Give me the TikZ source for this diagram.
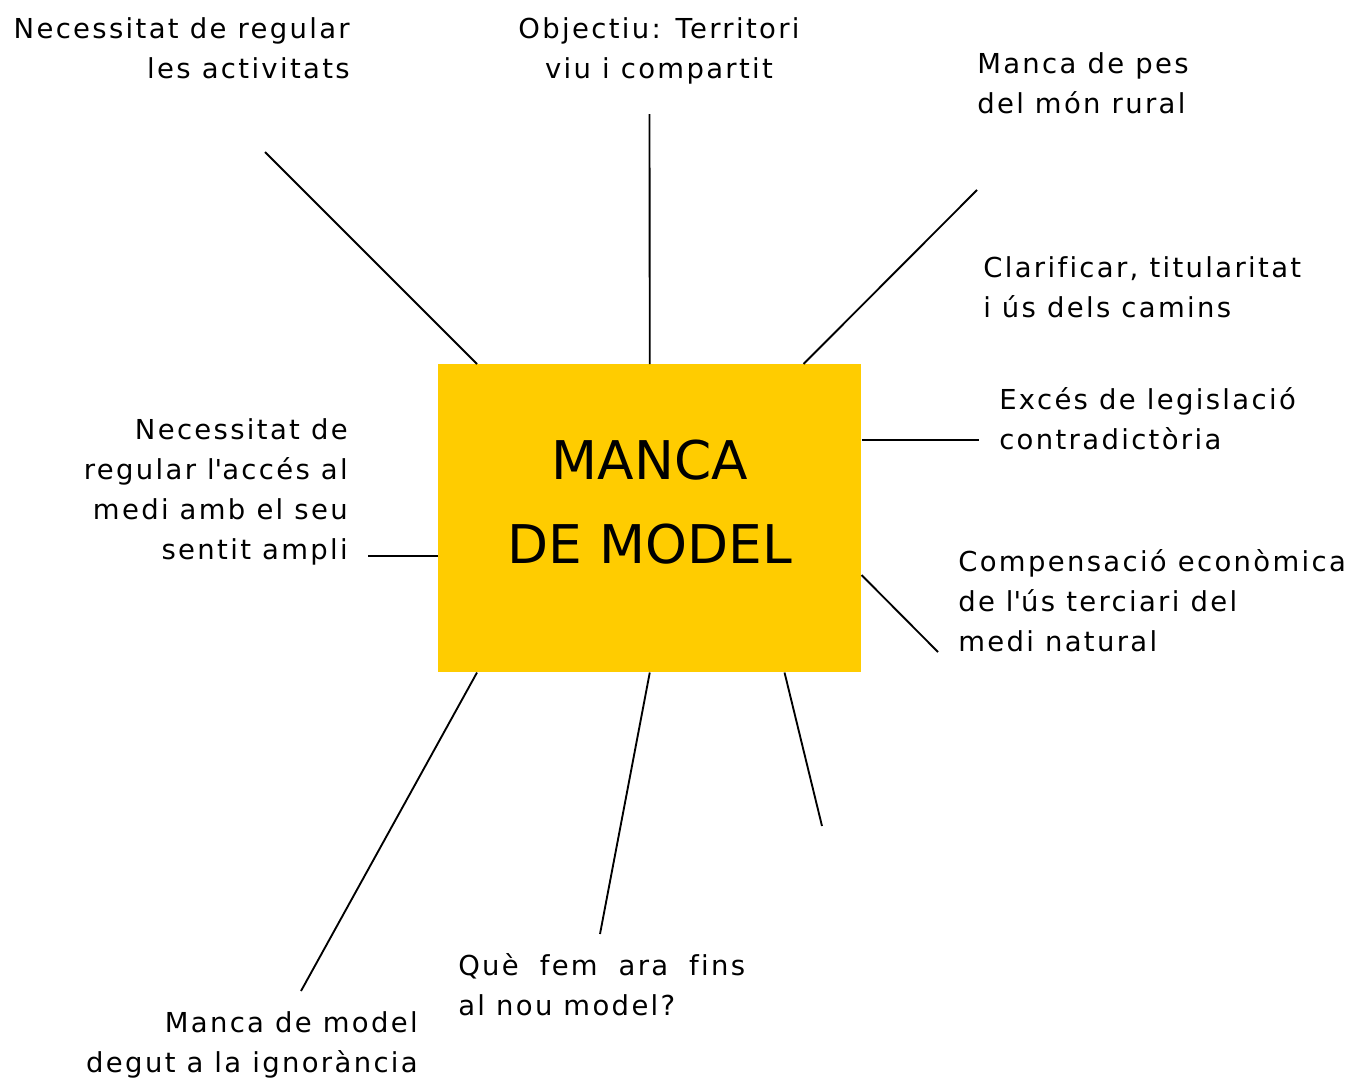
\documentclass[tikz,border=0pt]{standalone}
\usepackage{fontspec}
\setmainfont{DejaVu Sans}[LetterSpace=8.5,Ligatures=NoCommon]
\newfontfamily\titlefont{DejaVu Sans}
\definecolor{boxyellow}{HTML}{FFCC00}
\newcommand{\lblfont}{\fontsize{20.6pt}{30pt}\selectfont}
\begin{document}
\begin{tikzpicture}[x=0.75pt,y=-0.75pt,
  lbl/.style={inner sep=0pt, font=\lblfont},
  link/.style={line width=1.4pt, draw=black}]
\useasboundingbox (0,0) rectangle (1370,1082);
% central box
\node[fill=boxyellow, minimum width=317.25pt, minimum height=231pt, inner sep=0pt, anchor=north west] (box) at (438,364) {};
\node[font=\titlefont\fontsize{40pt}{63pt}\selectfont, align=center, anchor=base, inner sep=0pt] (title) at (650,563) {MANCA\\DE MODEL};
% labels (anchor = baseline of the last line)
\node[lbl, align=right, anchor=base east] (l1) at (350,78) {Necessitat de regular\\les activitats};
\node[lbl, align=center, anchor=base] (l2) at (659,78) {Objectiu: Territori\\viu i compartit};
\node[lbl, align=left, anchor=base west] (l3) at (977,113) {Manca de pes\\del món rural};
\node[lbl, align=left, anchor=base west] (l4) at (983,317) {Clarificar, titularitat\\i ús dels camins};
\node[lbl, align=left, anchor=base west] (l5) at (999,449) {Excés de legislació\\contradictòria};
\node[lbl, align=left, anchor=base west] (l6) at (958,651) {Compensació econòmica\\de l\textquotesingle ús terciari del\\medi natural};
\node[lbl, align=right, anchor=base east] (l7) at (348,559) {Necessitat de\\regular l\textquotesingle accés al\\medi amb el seu\\sentit ampli};
\node[lbl, align=left, anchor=base west] (l8) at (458,1015) {\makebox[215.25pt][s]{Què fem ara fins}\\al nou model?};
\node[lbl, align=right, anchor=base east] (l9) at (418,1072) {Manca de model\\degut a la ignorància};
% free ends
\coordinate (e1) at (265,152);
\coordinate (e2) at (649.5,114);
\coordinate (e3) at (977,190);
\coordinate (e4) at (979,440);
\coordinate (e5) at (938,652);
\coordinate (e6) at (822,826);
\coordinate (e7) at (600,934);
\coordinate (e8) at (301,991);
\coordinate (e9) at (368,556);
% connectors
\draw[link] ([xshift=29.25pt]box.north west) -- (e1);
\draw[link] (box.north) -- (e2);
\draw[link] ([xshift=-43.5pt]box.north east) -- (e3);
\draw[link] ([yshift=-57pt]box.north east) -- (e4);
\draw[link] ([yshift=-158.25pt]box.north east) -- (e5);
\draw[link] ([xshift=-57.75pt]box.south east) -- (e6);
\draw[link] (box.south) -- (e7);
\draw[link] ([xshift=29.25pt]box.south west) -- (e8);
\draw[link] ([yshift=-144pt]box.north west) -- (e9);
\end{tikzpicture}
\end{document}
